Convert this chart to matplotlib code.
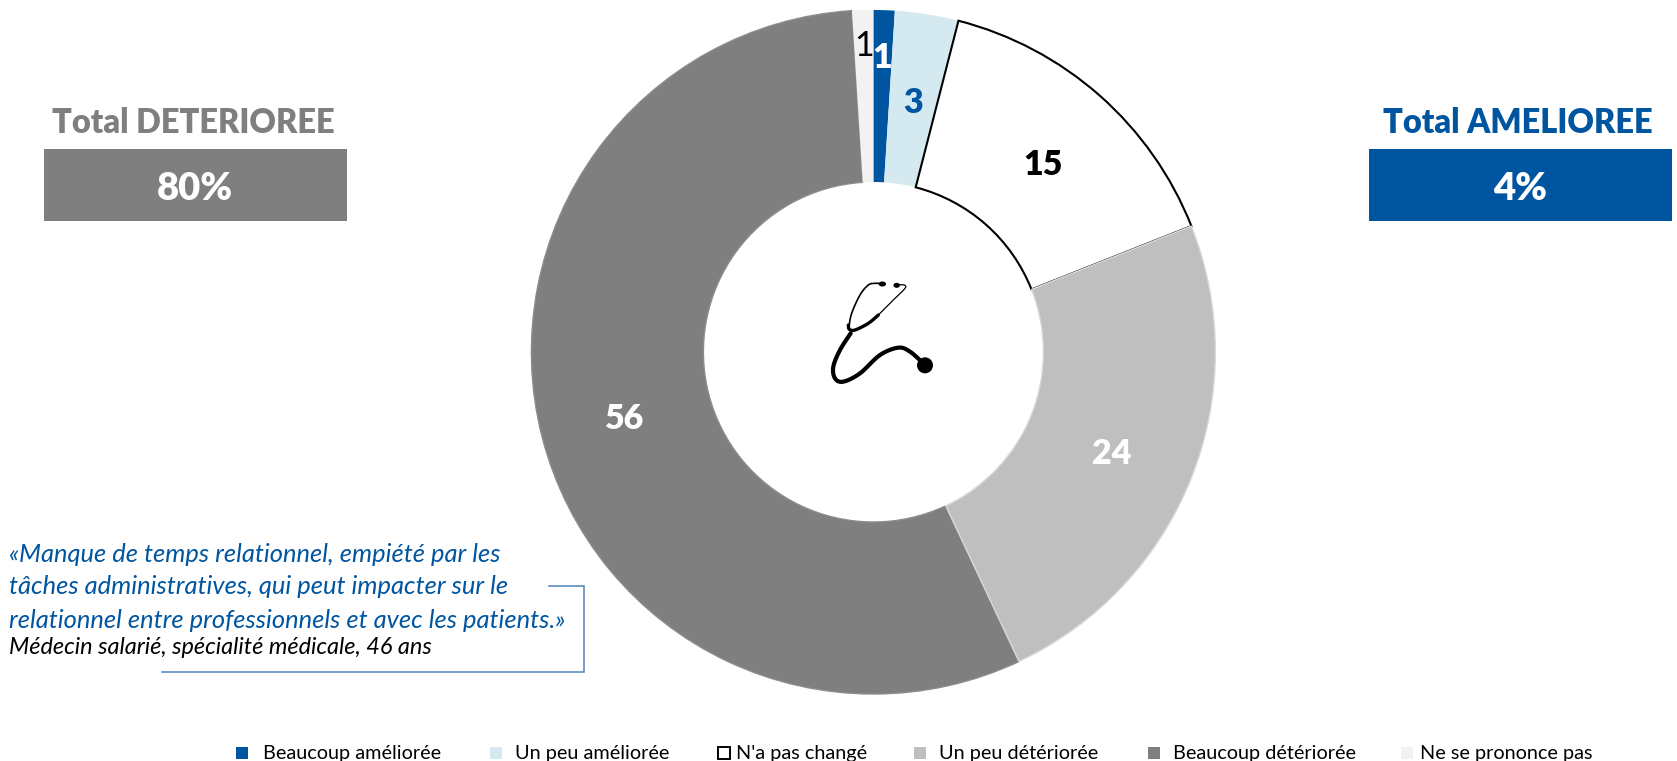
import numpy as np
import matplotlib
matplotlib.use("Agg")
import matplotlib.pyplot as plt
from matplotlib.patches import Rectangle, Ellipse, PathPatch
from matplotlib.path import Path

plt.rcParams['font.family'] = ['Lato', 'DejaVu Sans']

categories = ["Beaucoup améliorée", "Un peu améliorée", "N'a pas changé",
              "Un peu détériorée", "Beaucoup détériorée", "Ne se prononce pas"]
values = [1, 3, 15, 24, 56, 1]
colors = ["#0055A0", "#D5E9F1", "#FFFFFF", "#BFBFBF", "#7F7F7F", "#F2F2F2"]
edges = ["none", "none", "#000000", "#D9D9D9", "#8C8C8C", "none"]
label_colors = ["white", "#0055A0", "black", "white", "white", "black"]
label_radius = [0.86, 0.75, 0.75, 0.75, 0.75, 0.90]
label_shift = [0, 4, 5, 8, 3, 2]
label_weight = [800, 800, 800, 800, 800, "normal"]
total_left = ("Total DETERIOREE", "80%")
total_right = ("Total AMELIOREE", "4%")
quote = ["«Manque de temps relationnel, empiété par les",
         "tâches administratives, qui peut impacter sur le",
         "relationnel entre professionnels et avec les patients.»"]
author = "Médecin salarié, spécialité médicale, 46 ans"

W, H = 1677, 761
fig = plt.figure(figsize=(W / 100, H / 100), dpi=100, facecolor="white")

# Doughnut
cx, cy, R, r = 873.4, 352, 342, 170
ax = fig.add_axes([(cx - R) / W, (H - cy - R) / H, 2 * R / W, 2 * R / H])
wedges, _ = ax.pie(values, colors=colors, startangle=90, counterclock=False, radius=1,
                   wedgeprops=dict(width=(R - r) / R, linewidth=0))
for i, w in enumerate(wedges):
    if edges[i] != "none":
        w.set_edgecolor(edges[i])
        w.set_linewidth(1.5 if edges[i] == "#000000" else 1.0)
    if edges[i] == "#000000":
        w.set_zorder(5)
    if i == 3:
        w.set_zorder(6)
for i, w in enumerate(wedges):
    a = np.deg2rad((w.theta1 + w.theta2) / 2)
    ax.annotate(str(values[i]), (label_radius[i] * np.cos(a), label_radius[i] * np.sin(a)),
                xytext=(0, -label_shift[i]), textcoords="offset pixels",
                color=label_colors[i], fontsize=24.5, fontweight=label_weight[i],
                ha="center", va="center", zorder=10)
ax.set_xlim(-1, 1)
ax.set_ylim(-1, 1)
ax.axis("off")

# Overlay in pixel coordinates
ov = fig.add_axes([0, 0, 1, 1], facecolor="none")
ov.set_xlim(0, W)
ov.set_ylim(H, 0)
ov.axis("off")

BLUE, GREY = "#0055A0", "#7F7F7F"
for (title, val), x0, col in ((total_left, 44, GREY), (total_right, 1369, BLUE)):
    ov.add_patch(Rectangle((x0, 149), 303, 72, fc=col, ec="none"))
    ov.text(x0 + 149, 123, title, color=col, fontsize=23.5, fontweight=800, ha="center", va="center")
    ov.text(x0 + 151, 189, val, color="white", fontsize=27.5, fontweight=800, ha="center", va="center")

# Quote
for y, line in zip((554, 586, 620), quote):
    ov.text(9, y, line, color=BLUE, fontsize=18.4, style="italic", ha="left", va="center")
ov.text(9, 648, author, color="black", fontsize=16.9, style="italic", ha="left", va="center")
ov.plot([549, 584, 584, 162.5], [586, 586, 671.5, 671.5], color="#4F81BD", lw=1.1,
        solid_joinstyle="miter")

# Legend
mark_x = [236, 490, 718, 914, 1148, 1401]
text_x = [263, 515.5, 736, 939, 1173, 1420]
ly = 753
for i, c in enumerate(categories):
    ov.add_patch(Rectangle((mark_x[i], ly - 6), 12, 12, fc=colors[i],
                           ec="black" if i == 2 else "none", lw=1.4))
    ov.text(text_x[i], ly + 0.5, c, color="black", fontsize=14.3, ha="left", va="center")


# Stethoscope (icon)
def smooth(pts, n=14):
    p = np.array(pts, float)
    p = np.vstack([p[0], p, p[-1]])
    out = []
    for i in range(1, len(p) - 2):
        for t in np.linspace(0, 1, n, endpoint=False):
            a, b, c, d = p[i - 1], p[i], p[i + 1], p[i + 2]
            out.append(0.5 * (2 * b + (c - a) * t + (2 * a - 5 * b + 4 * c - d) * t ** 2
                              + (3 * b - a - 3 * c + d) * t ** 3))
    out.append(p[-2])
    return np.array(out)


def zpt(pts):
    return [(780 + x / 3, 250 + y / 3) for x, y in pts]


icon = [
    ([(212, 250), (180, 300), (160, 350), (165, 385), (190, 395), (240, 370),
      (300, 315), (355, 293), (390, 305), (430, 340)], 3.0),
    ([(205, 225), (208, 238), (225, 240), (265, 220), (295, 195)], 2.4),
    ([(207, 230), (215, 190), (240, 135), (265, 105), (285, 100), (305, 101)], 1.2),
    ([(295, 195), (340, 150), (375, 115), (372, 105), (350, 105)], 0.9),
]
for pts, lw in icon:
    ov.add_patch(PathPatch(Path(smooth(zpt(pts))), fc="none", ec="black", lw=lw, capstyle="round"))
ov.add_patch(Ellipse((780 + 435 / 3, 250 + 346 / 3), 16, 16, fc="black", ec="none"))
ov.add_patch(Ellipse((780 + 307 / 3, 250 + 102 / 3), 7.5, 5, fc="black", ec="none"))
ov.add_patch(Ellipse((780 + 350 / 3, 250 + 106 / 3), 6.5, 5, fc="black", ec="none"))

fig.savefig("out.png", dpi=100, facecolor="white")
